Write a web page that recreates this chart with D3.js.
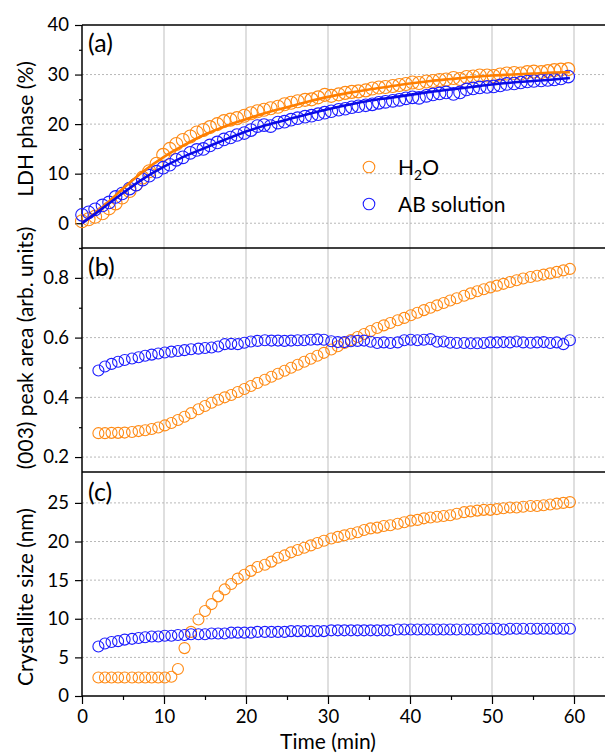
<!DOCTYPE html>
<html><head><meta charset="utf-8">
<script src="https://cdn.jsdelivr.net/npm/d3@7"></script>
<style>body{margin:0;background:#fff}svg{display:block}text{font-family:Lato,"Open Sans",sans-serif;fill:#000}</style>
</head><body><svg id="c" width="605" height="754"></svg>
<script>
// ---------- data ----------
const xTicks = [0, 10, 20, 30, 40, 50, 60];
const xMinor = [5, 15, 25, 35, 45, 55];
const seriesNames = ["H2O", "AB solution"];

// panel (a): LDH phase (%)
const timeA = [0.0,0.8,1.6,2.5,3.3,4.1,4.9,5.8,6.6,7.4,8.2,9.1,9.9,10.7,11.5,12.3,13.2,14.0,14.8,15.6,16.5,17.3,18.1,18.9,19.8,20.6,21.4,22.2,23.0,23.9,24.7,25.5,26.3,27.2,28.0,28.8,29.6,30.4,31.3,32.1,32.9,33.7,34.6,35.4,36.2,37.0,37.9,38.7,39.5,40.3,41.1,42.0,42.8,43.6,44.4,45.3,46.1,46.9,47.7,48.5,49.4,50.2,51.0,51.8,52.7,53.5,54.3,55.1,56.0,56.8,57.6,58.4,59.3];
const h2oA = [0.4,0.8,1.3,2.0,3.0,4.0,5.2,6.5,7.8,9.2,10.5,12.0,13.8,15.0,16.0,16.8,17.5,18.3,18.8,19.4,20.0,20.6,20.9,21.2,21.7,22.2,22.6,22.9,23.2,23.5,24.0,24.3,24.6,24.9,25.0,25.4,25.9,25.7,26.0,26.3,26.5,26.6,26.8,27.2,27.4,27.5,27.7,27.9,28.1,28.4,28.3,28.6,28.7,28.9,29.0,29.3,29.1,29.5,29.6,29.8,29.8,29.7,30.0,30.2,30.3,30.2,30.5,30.6,30.5,30.7,30.9,31.0,31.1];
const abA = [1.7,2.2,2.8,3.6,4.2,5.3,6.0,7.0,7.8,8.8,9.6,10.4,11.2,11.8,12.8,13.3,14.2,14.8,15.0,15.7,16.3,16.9,17.3,17.8,18.2,18.8,19.6,19.8,19.6,20.3,20.5,20.9,21.2,21.5,21.7,22.0,22.3,22.6,22.9,23.1,23.4,23.6,23.8,24.0,24.3,24.5,24.7,24.9,25.2,25.4,25.3,25.7,26.0,26.2,26.4,26.1,26.4,27.0,27.2,27.4,27.5,27.6,27.8,28.1,28.2,28.4,28.6,28.7,28.8,28.9,29.0,29.2,29.6];
const fitTime = [0,2.5,5,7.5,10,12.5,15,17.5,20,22.5,25,27.5,30,32.5,35,37.5,40,42.5,45,47.5,50,52.5,55,57.5,59.5];
const fitH2O = [0,3.2,7.0,10.5,13.4,15.8,17.9,19.6,21.0,22.3,23.4,24.5,25.5,26.3,27.0,27.6,28.2,28.7,29.1,29.5,29.8,30.0,30.2,30.4,30.5];
const fitAB = [0,3.0,6.1,9.0,11.4,13.5,15.2,16.9,18.5,19.8,20.9,22.0,23.0,23.9,24.7,25.3,25.9,26.5,27.0,27.5,28.0,28.4,28.7,29.0,29.3];

// panels (b) and (c)
const timeB = [2.0,2.8,3.6,4.4,5.2,6.1,6.9,7.7,8.5,9.3,10.1,10.9,11.7,12.5,13.3,14.2,15.0,15.8,16.6,17.4,18.2,19.0,19.8,20.6,21.4,22.3,23.1,23.9,24.7,25.5,26.3,27.1,27.9,28.7,29.5,30.4,31.2,32.0,32.8,33.6,34.4,35.2,36.0,36.8,37.6,38.5,39.3,40.1,40.9,41.7,42.5,43.3,44.1,44.9,45.7,46.6,47.4,48.2,49.0,49.8,50.6,51.4,52.2,53.0,53.8,54.7,55.5,56.3,57.1,57.9,58.7,59.5];
const h2oB = [.280,.280,.281,.281,.282,.284,.287,.290,.294,.299,.306,.314,.324,.335,.347,.360,.371,.382,.392,.400,.408,.418,.428,.438,.448,.459,.469,.479,.489,.499,.509,.519,.529,.539,.549,.560,.571,.582,.592,.602,.612,.622,.632,.641,.649,.658,.666,.675,.683,.692,.700,.708,.716,.724,.732,.740,.748,.755,.762,.768,.774,.780,.786,.792,.798,.803,.807,.811,.815,.820,.825,.830];
const abB = [.490,.503,.512,.519,.525,.530,.534,.539,.543,.547,.550,.553,.555,.558,.561,.563,.565,.567,.570,.578,.579,.578,.583,.587,.589,.591,.590,.590,.589,.590,.591,.591,.593,.594,.593,.588,.585,.585,.588,.589,.590,.586,.582,.584,.582,.584,.591,.593,.591,.593,.595,.586,.587,.583,.582,.582,.581,.581,.582,.584,.584,.585,.584,.587,.584,.583,.584,.585,.582,.584,.578,.591];
const h2oC = [2.4,2.4,2.4,2.4,2.4,2.4,2.4,2.4,2.4,2.4,2.4,2.5,3.5,6.2,8.3,9.9,11.0,11.9,12.9,13.8,14.5,15.2,15.7,16.2,16.7,17.0,17.4,17.9,18.2,18.6,18.9,19.2,19.5,19.8,20.1,20.4,20.6,20.8,21.0,21.2,21.5,21.7,21.8,22.0,22.1,22.3,22.5,22.7,22.8,23.0,23.1,23.2,23.3,23.4,23.6,23.8,23.9,24.0,24.1,24.1,24.2,24.3,24.4,24.4,24.5,24.6,24.6,24.7,24.8,24.9,25.0,25.1];
const abC = [6.4,6.8,7.0,7.1,7.3,7.4,7.5,7.6,7.7,7.7,7.8,7.8,7.9,7.9,8.0,8.0,8.0,8.1,8.1,8.1,8.2,8.2,8.2,8.2,8.3,8.3,8.3,8.3,8.3,8.4,8.4,8.4,8.4,8.4,8.4,8.5,8.5,8.5,8.5,8.5,8.5,8.5,8.5,8.5,8.5,8.6,8.6,8.6,8.6,8.6,8.6,8.6,8.6,8.6,8.6,8.6,8.6,8.6,8.7,8.7,8.7,8.6,8.7,8.7,8.7,8.7,8.7,8.7,8.7,8.7,8.7,8.7];

const ticksA = [0,10,20,30,40], minorA = [-5,5,15,25,35];
const ticksB = [0.2,0.4,0.6,0.8], minorB = [0.3,0.5,0.7,0.9];
const ticksC = [0,5,10,15,20,25];

// ---------- drawing ----------
const ORANGE = "#ff8a14", BLUE = "#1c1cff", ORANGE_LINE = "#ff7f00", BLUE_LINE = "#0a0ae6";
const TICK_FS = 18.5, TITLE_FS = 21;
const svg = d3.select("#c");
const L = 82, R = 605;
const x = d3.scaleLinear().domain([0, 60]).range([L, 574]);

const panels = [
  {y: d3.scaleLinear().domain([-5, 40]).range([248, 25]), major: ticksA, minor: minorA, fmt: d3.format("d"),
   title: "LDH phase (%)", tY: 129, lab: "(a)", labY: 52},
  {y: d3.scaleLinear().domain([0.15, 0.9]).range([472, 248]), major: ticksB, minor: minorB, fmt: d3.format(".1f"),
   title: "(003) peak area (arb. units)", tY: 348, lab: "(b)", labY: 276},
  {y: d3.scaleLinear().domain([0, 29]).range([696, 472]), major: ticksC, minor: [], fmt: d3.format("d"),
   title: "Crystallite size (nm)", tY: 597, lab: "(c)", labY: 501}
];

// vertical grid
svg.append("g").selectAll("line").data(xTicks.filter(d => d > 0)).join("line")
  .attr("x1", d => x(d)).attr("x2", d => x(d)).attr("y1", 25).attr("y2", 696)
  .attr("stroke", "#d4d4d4").attr("stroke-width", 1.5);

panels.forEach(p => {
  const [lo, hi] = p.y.domain();
  svg.append("g").selectAll("line").data(p.major.filter(d => d > lo + 1e-9 && d < hi - 1e-9)).join("line")
    .attr("x1", L).attr("x2", R).attr("y1", d => p.y(d)).attr("y2", d => p.y(d))
    .attr("stroke", "#b8b8b8").attr("stroke-width", 1).attr("stroke-dasharray", "2,2");
  const ga = svg.append("g").attr("transform", `translate(${L},0)`)
    .call(d3.axisLeft(p.y).tickValues(p.major).tickSize(7).tickPadding(6).tickFormat(p.fmt));
  ga.select(".domain").remove();
  ga.selectAll("line").attr("stroke", "#000").attr("stroke-width", 1.2);
  ga.selectAll("text").attr("font-family", "Lato").attr("font-size", TICK_FS).attr("fill", "#000");
  if (p.minor.length) {
    const gm = svg.append("g").attr("transform", `translate(${L},0)`)
      .call(d3.axisLeft(p.y).tickValues(p.minor).tickSize(3).tickFormat(""));
    gm.select(".domain").remove();
    gm.selectAll("line").attr("stroke", "#000").attr("stroke-width", 1.2);
  }
  svg.append("text").attr("transform", `translate(33,${p.tY}) rotate(-90)`)
    .attr("text-anchor", "middle").attr("font-size", TITLE_FS).text(p.title);
  svg.append("text").attr("x", 88).attr("y", p.labY).attr("font-size", 25).text(p.lab);
});

// x axis
const gx = svg.append("g").attr("transform", "translate(0,696)")
  .call(d3.axisBottom(x).tickValues(xTicks).tickSize(8).tickPadding(6).tickFormat(d3.format("d")));
gx.select(".domain").remove();
gx.selectAll("line").attr("stroke", "#000").attr("stroke-width", 1.2);
gx.selectAll("text").attr("font-family", "Lato").attr("font-size", TICK_FS).attr("fill", "#000");
const gxm = svg.append("g").attr("transform", "translate(0,696)")
  .call(d3.axisBottom(x).tickValues(xMinor).tickSize(4).tickFormat(""));
gxm.select(".domain").remove();
gxm.selectAll("line").attr("stroke", "#000").attr("stroke-width", 1.2);
svg.append("text").attr("x", 328).attr("y", 749).attr("text-anchor", "middle").attr("font-size", TITLE_FS).text("Time (min)");

// frame
[25, 248, 472, 696].forEach(yy => svg.append("line").attr("x1", L).attr("x2", R).attr("y1", yy).attr("y2", yy)
  .attr("stroke", "#000").attr("stroke-width", 1.5));
svg.append("line").attr("x1", L).attr("x2", L).attr("y1", 25).attr("y2", 696).attr("stroke", "#000").attr("stroke-width", 1.5);

// markers
function dots(times, vals, yS, color, r) {
  svg.append("g").selectAll("circle").data(times.map((t, i) => [t, vals[i]])).join("circle")
    .attr("cx", d => x(d[0])).attr("cy", d => yS(d[1])).attr("r", r)
    .attr("fill", "none").attr("stroke", color).attr("stroke-width", 1.1);
}
const [pa, pb, pc] = panels;
dots(timeA, h2oA, pa.y, ORANGE, 6.5);
dots(timeA, abA, pa.y, BLUE, 6.3);
const line = d3.line().x(d => x(d[0])).y(d => pa.y(d[1])).curve(d3.curveMonotoneX);
svg.append("path").attr("d", line(fitTime.map((t, i) => [t, fitH2O[i]])))
  .attr("fill", "none").attr("stroke", ORANGE_LINE).attr("stroke-width", 2.6);
svg.append("path").attr("d", line(fitTime.map((t, i) => [t, fitAB[i]])))
  .attr("fill", "none").attr("stroke", BLUE_LINE).attr("stroke-width", 2.6);
dots(timeB, h2oB, pb.y, ORANGE, 5.5);
dots(timeB, abB, pb.y, BLUE, 5.5);
dots(timeB, h2oC, pc.y, ORANGE, 5.5);
dots(timeB, abC, pc.y, BLUE, 5.5);

// legend
const leg = svg.append("g");
[[seriesNames[0], ORANGE, 167], [seriesNames[1], BLUE, 204]].forEach(([name, col, cy]) => {
  leg.append("circle").attr("cx", 369).attr("cy", cy).attr("r", 5.8).attr("fill", "none").attr("stroke", col).attr("stroke-width", 1.1);
  const t = leg.append("text").attr("x", 398).attr("y", cy + 8).attr("font-size", TITLE_FS);
  if (name === "H2O") {
    t.append("tspan").text("H");
    t.append("tspan").attr("font-size", 14).attr("dy", 5).text("2");
    t.append("tspan").attr("dy", -5).text("O");
  } else t.text(name);
});
</script></body></html>
